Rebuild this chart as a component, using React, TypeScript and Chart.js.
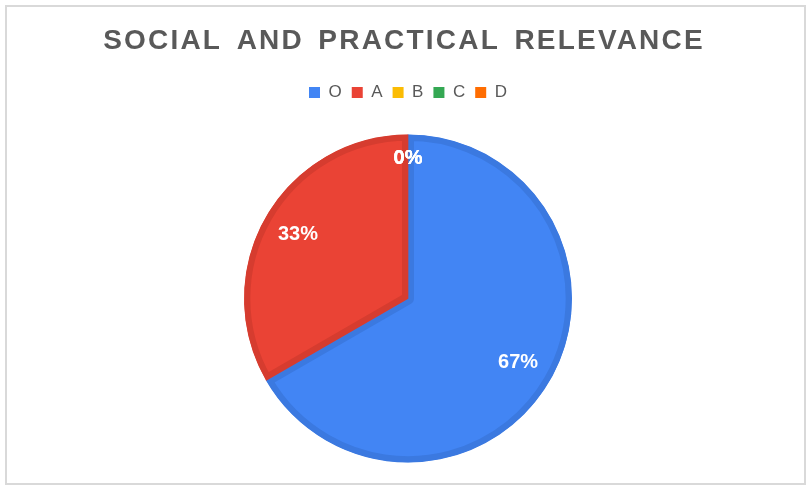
import React, { useEffect, useRef } from "react";
import { Chart, registerables } from "chart.js";

Chart.register(...registerables);

const TITLE = "SOCIAL AND PRACTICAL RELEVANCE";
const categories = ["O", "A", "B", "C", "D"];
const values = [2, 1, 0, 0, 0];
const fillColors = ["#4285F4", "#EA4335", "#FBBC04", "#34A853", "#FF6D01"];
const borderColors = ["#3B79E0", "#D63C2F", "#E0A800", "#2E9A4A", "#E86200"];

const FONT = "'Liberation Sans', Arial, sans-serif";

const titlePlugin = {
  id: "customTitle",
  afterDraw(chart: any) {
    const ctx = chart.ctx;
    ctx.save();
    ctx.fillStyle = "#595959";
    ctx.font = "bold 28px " + FONT;
    (ctx as any).letterSpacing = "2.2px";
    (ctx as any).wordSpacing = "4.5px";
    ctx.textAlign = "center";
    ctx.textBaseline = "middle";
    ctx.fillText(TITLE, 404, 41);
    ctx.restore();
  },
};

const labelPlugin = {
  id: "pctLabels",
  afterDatasetsDraw(chart: any) {
    const ctx = chart.ctx;
    const meta = chart.getDatasetMeta(0);
    const data = chart.data.datasets[0].data as number[];
    const total = data.reduce((a, b) => a + b, 0);
    ctx.save();
    ctx.fillStyle = "#ffffff";
    ctx.font = "bold 20px " + FONT;
    ctx.textAlign = "center";
    ctx.textBaseline = "middle";
    meta.data.forEach((arc: any, i: number) => {
      const p = arc.getProps(["x", "y", "startAngle", "endAngle", "outerRadius"], true);
      const mid = (p.startAngle + p.endAngle) / 2;
      const f = data[i] === 0 ? 0.855 : 0.775;
      const r = p.outerRadius * f;
      const x = p.x + Math.cos(mid) * r;
      const y = p.y + Math.sin(mid) * r;
      const pct = Math.round((data[i] / total) * 100);
      ctx.fillText(pct + "%", x, y);
    });
    ctx.restore();
  },
};

export default function App() {
  const ref = useRef<HTMLCanvasElement | null>(null);
  useEffect(() => {
    if (!ref.current) return;
    const baseGen = (Chart as any).overrides.pie.plugins.legend.labels.generateLabels;
    const chart = new Chart(ref.current, {
      type: "pie",
      data: {
        labels: categories,
        datasets: [
          {
            data: values,
            backgroundColor: fillColors,
            borderColor: borderColors,
            borderWidth: 6,
            borderAlign: "inner",
          } as any,
        ],
      },
      options: {
        animation: false,
        responsive: false,
        maintainAspectRatio: false,
        radius: 164,
        layout: { padding: { top: 74, bottom: 0, left: 10, right: 0 } },
        plugins: {
          title: { display: false },
          legend: {
            display: true,
            position: "top",
            labels: {
              boxWidth: 11,
              boxHeight: 11,
              color: "#595959",
              font: { family: FONT, size: 17 },
              padding: 10,
              generateLabels(c: any) {
                return baseGen(c).map((l: any) => ({ ...l, lineWidth: 0, strokeStyle: "transparent" }));
              },
            },
          },
          tooltip: { enabled: false },
        },
      } as any,
      plugins: [labelPlugin, titlePlugin],
    });
    return () => chart.destroy();
  }, []);
  return (
    <div style={{ position: "absolute", left: 0, top: 0, width: 806, height: 486, background: "#fff" }}>
      <canvas ref={ref} width={806} height={486} style={{ position: "absolute", left: 0, top: 0 }} />
      <div
        style={{
          position: "absolute",
          left: 5,
          top: 5,
          width: 797,
          height: 476,
          border: "2px solid #d9d9d9",
          pointerEvents: "none",
        }}
      />
    </div>
  );
}
